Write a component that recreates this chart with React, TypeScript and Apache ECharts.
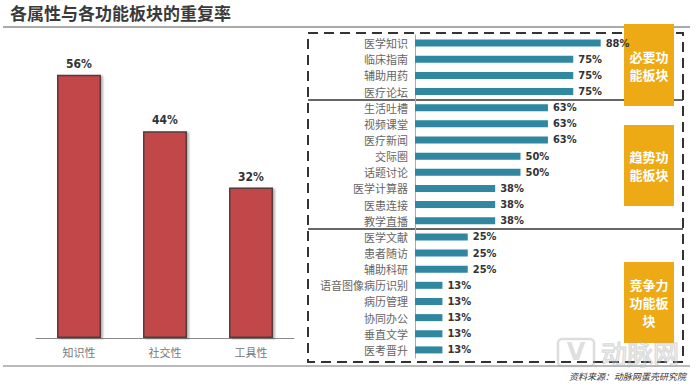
import React, { useEffect, useRef } from "react";
import * as echarts from "echarts";

const titleText = "各属性与各功能板块的重复率";
const sourceText = "资料来源：动脉网蛋壳研究院";
const attrCategories = ["知识性", "社交性", "工具性"];
const attrValues = [56, 44, 32];
const funcCategories = [
  "医学知识", "临床指南", "辅助用药", "医疗论坛",
  "生活吐槽", "视频课堂", "医疗新闻", "交际圈", "话题讨论", "医学计算器", "医患连接", "教学直播",
  "医学文献", "患者随访", "辅助科研", "语音图像病历识别", "病历管理", "协同办公", "垂直文学", "医考晋升",
];
const funcValues = [88, 75, 75, 75, 63, 63, 63, 50, 50, 38, 38, 38, 25, 25, 25, 13, 13, 13, 13, 13];
const groupLabels = ["必要功\n能板块", "趋势功\n能板块", "竞争力\n功能板\n块"];

const CJK = "'Noto Sans CJK SC', 'Noto Sans', sans-serif";
const NARROW = "'Liberation Sans Narrow', 'DejaVu Sans Condensed', 'Liberation Sans', sans-serif";

export default function App() {
  const ref = useRef<HTMLDivElement>(null);
  useEffect(() => {
    if (!ref.current) return;
    const chart = echarts.init(ref.current, null, { renderer: "svg" });
    const gold = "#eeaa14";
    const boxes = [
      { y: 24, h: 82, lh: 18 },
      { y: 125, h: 81, lh: 18 },
      { y: 262, h: 81, lh: 18 },
    ];
    chart.setOption({
      animation: false,
      backgroundColor: "#ffffff",
      grid: [
        { left: 36, top: 56, width: 258, height: 282 },
        { left: 415, top: 35, width: 211, height: 323 },
      ],
      xAxis: [
        {
          type: "category",
          gridIndex: 0,
          data: attrCategories,
          axisLine: { lineStyle: { color: "#8a8a8a", width: 1 } },
          axisTick: { show: false },
          axisLabel: { color: "#777", fontSize: 11, fontFamily: CJK, margin: 8 },
        },
        {
          type: "value",
          gridIndex: 1,
          min: 0,
          max: 100,
          show: false,
        },
      ],
      yAxis: [
        { type: "value", gridIndex: 0, min: 0, max: 60, show: false },
        {
          type: "category",
          gridIndex: 1,
          inverse: true,
          data: funcCategories,
          axisLine: { lineStyle: { color: "#b8ab8c", width: 1 } },
          axisTick: { show: false },
          axisLabel: { color: "#666", fontSize: 11, fontFamily: CJK, margin: 7 },
        },
      ],
      series: [
        {
          type: "bar",
          xAxisIndex: 0,
          yAxisIndex: 0,
          data: attrValues,
          barWidth: 44,
          itemStyle: {
            color: "#c2474a",
            borderColor: "#553a3a",
            borderWidth: 1.5,
            shadowColor: "rgba(0,0,0,0.3)",
            shadowOffsetX: 2,
            shadowOffsetY: 1,
            shadowBlur: 2,
          },
          label: {
            show: true,
            position: "top",
            distance: 5,
            formatter: "{c}%",
            color: "#333",
            fontWeight: "bold",
            fontSize: 12,
            fontFamily: NARROW,
          },
        },
        {
          type: "bar",
          xAxisIndex: 1,
          yAxisIndex: 1,
          data: funcValues,
          barWidth: 7,
          itemStyle: { color: "#2f87a0" },
          label: {
            show: true,
            position: "right",
            distance: 5,
            formatter: "{c}%",
            color: "#333",
            fontWeight: "bold",
            fontSize: 11,
            fontFamily: NARROW,
          },
        },
      ],
      graphic: [
        {
          type: "text",
          left: 10,
          top: 4,
          style: { text: titleText, fill: "#3a3a3a", fontSize: 17, fontWeight: "bold", fontFamily: CJK },
        },
        { type: "line", shape: { x1: 3, y1: 27, x2: 690, y2: 27 }, style: { stroke: "#555", lineWidth: 1 } },
        { type: "line", shape: { x1: 3, y1: 366, x2: 690, y2: 366 }, style: { stroke: "#777", lineWidth: 1 } },
        {
          type: "rect",
          shape: { x: 308, y: 33, width: 375, height: 329 },
          style: { fill: "none", stroke: "#333", lineWidth: 2, lineDash: [10, 6] },
        },
        { type: "line", shape: { x1: 308, y1: 100, x2: 683, y2: 100 }, style: { stroke: "#333", lineWidth: 1.5 } },
        { type: "line", shape: { x1: 308, y1: 229, x2: 683, y2: 229 }, style: { stroke: "#333", lineWidth: 1.5 } },
        ...boxes.map((b, i) => ({
          type: "group",
          z: 100,
          children: [
            { type: "rect", shape: { x: 624, y: b.y, width: 50, height: b.h }, style: { fill: gold } },
            {
              type: "text",
              x: 649,
              y: b.y + b.h / 2,
              style: {
                text: groupLabels[i],
                fill: "#fff",
                fontSize: 13,
                fontWeight: "bold",
                fontFamily: CJK,
                align: "center",
                verticalAlign: "middle",
                lineHeight: b.lh,
              },
            },
          ],
        })),
        {
          type: "group",
          z: 110,
          children: [
            {
              type: "rect",
              shape: { x: 558, y: 339, width: 36, height: 27, r: 4 },
              style: { fill: "none", stroke: "rgba(170,170,170,0.4)", lineWidth: 2.5 },
            },
            {
              type: "text",
              x: 576,
              y: 352,
              style: {
                text: "V",
                fill: "rgba(170,170,170,0.4)",
                fontSize: 24,
                fontWeight: "bold",
                fontFamily: "'DejaVu Sans', sans-serif",
                align: "center",
                verticalAlign: "middle",
              },
            },
            {
              type: "text",
              x: 601,
              y: 352,
              style: {
                text: "动脉网",
                fill: "rgba(255,255,255,0.2)",
                stroke: "rgba(170,170,170,0.45)",
                lineWidth: 1.5,
                fontSize: 26,
                fontFamily: CJK,
                verticalAlign: "middle",
              },
            },
          ],
        },
        {
          type: "text",
          x: 686,
          y: 376,
          z: 120,
          style: {
            text: sourceText,
            fill: "#333",
            fontSize: 9,
            fontStyle: "italic",
            fontFamily: CJK,
            align: "right",
            verticalAlign: "middle",
          },
        },
      ],
    });
    return () => chart.dispose();
  }, []);
  return (
    <div
      ref={ref}
      style={{ position: "absolute", left: 0, top: 0, width: 700, height: 389, background: "#fff" }}
    />
  );
}
